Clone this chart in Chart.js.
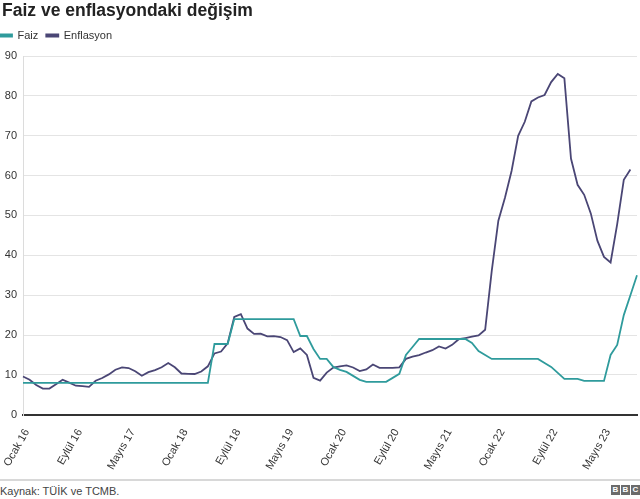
<!DOCTYPE html>
<html lang="tr">
<head>
  <meta charset="UTF-8">
  <title>Faiz ve enflasyondaki değişim</title>
  <script src="https://cdn.jsdelivr.net/npm/chart.js"></script>
  <style>
    body { margin: 0; background: #fff; font-family: "Liberation Sans", Arial, sans-serif; }
    #wrap { position: relative; width: 640px; height: 479px; }
    #footer { position: relative; width: 640px; height: 20px; border-top: 2px solid #d8d8d8; }
    #source { position: absolute; left: 0; top: 4px; font-size: 11px; color: #444; }
    #logo { position: absolute; right: 0; top: 4px; display: flex; gap: 1px; }
    #logo span { width: 9px; height: 10px; background: #6b6b6b; color: #fff; font-size: 8px; font-weight: bold; line-height: 10px; text-align: center; }
  </style>
</head>
<body>
  <div id="wrap"><canvas id="myChart"></canvas></div>
  <div id="footer">
    <div id="source">Kaynak: TÜİK ve TCMB.</div>
    <div id="logo"><span>B</span><span>B</span><span>C</span></div>
  </div>

  <script>
    // month labels, Ocak 2016 - Ekim 2023
    var monthNames = ['Ocak', 'Şubat', 'Mart', 'Nisan', 'Mayıs', 'Haziran', 'Temmuz', 'Ağustos', 'Eylül', 'Ekim', 'Kasım', 'Aralık'];
    var years = [16, 17, 18, 19, 20, 21, 22, 23];
    var months = [];
    years.forEach(function(y) {
      monthNames.forEach(function(m, i) {
        if (y === 23 && i > 9) return;
        months.push(m + ' ' + y);
      });
    });

    // policy rate (%)
    var faiz = [
      8, 8, 8, 8, 8, 8, 8, 8, 8, 8, 8, 8,
      8, 8, 8, 8, 8, 8, 8, 8, 8, 8, 8, 8,
      8, 8, 8, 8, 8, 17.75, 17.75, 17.75, 24, 24, 24, 24,
      24, 24, 24, 24, 24, 24, 19.75, 19.75, 16.5, 14, 14, 12,
      11.25, 10.75, 9.75, 8.75, 8.25, 8.25, 8.25, 8.25, 9.25, 10.25, 15, 17,
      19, 19, 19, 19, 19, 19, 19, 19, 18, 16, 15, 14,
      14, 14, 14, 14, 14, 14, 14, 13, 12, 10.5, 9, 9,
      9, 8.5, 8.5, 8.5, 8.5, 15, 17.5, 25, 30, 35
    ];

    // annual CPI inflation (%)
    var enflasyon = [
      9.58, 8.78, 7.46, 6.57, 6.58, 7.64, 8.79, 8.05, 7.28, 7.16, 7.00, 8.53,
      9.22, 10.13, 11.29, 11.87, 11.72, 10.90, 9.79, 10.68, 11.20, 11.90, 12.98, 11.92,
      10.35, 10.26, 10.23, 10.85, 12.15, 15.39, 15.85, 17.90, 24.52, 25.24, 21.62, 20.30,
      20.35, 19.67, 19.71, 19.50, 18.71, 15.72, 16.65, 15.01, 9.26, 8.55, 10.56, 11.84,
      12.15, 12.37, 11.86, 10.94, 11.39, 12.62, 11.76, 11.77, 11.75, 11.89, 14.03, 14.60,
      14.97, 15.61, 16.19, 17.14, 16.59, 17.53, 18.95, 19.25, 19.58, 19.89, 21.31, 36.08,
      48.69, 54.44, 61.14, 69.97, 73.50, 78.62, 79.60, 80.21, 83.45, 85.51, 84.39, 64.27,
      57.68, 55.18, 50.51, 43.68, 39.59, 38.21, 47.83, 58.94, 61.53, null
    ];

    var yTicks = [0, 10, 20, 30, 40, 50, 60, 70, 80, 90];

    // nudge legend: flush left, a bit more space under it
    var legendTweak = {
      id: 'legendTweak',
      afterInit: function(chart) {
        var lg = chart.legend;
        var fit = lg.fit, draw = lg.draw;
        lg.fit = function() { fit.call(this); this.height += 5; };
        lg.draw = function() {
          this.ctx.save();
          this.ctx.translate(-10, 0);
          draw.call(this);
          this.ctx.restore();
        };
      }
    };

    var ctx = document.getElementById('myChart').getContext('2d');
    var myChart = new Chart(ctx, {
      type: 'line',
      data: {
        labels: months,
        datasets: [{
          label: 'Faiz',
          data: faiz,
          borderColor: '#2f9b9c',
          backgroundColor: '#2f9b9c',
          borderWidth: 1.8,
          pointRadius: 0,
          tension: 0
        }, {
          label: 'Enflasyon',
          data: enflasyon,
          borderColor: '#4a4675',
          backgroundColor: '#4a4675',
          borderWidth: 1.8,
          pointRadius: 0,
          tension: 0
        }]
      },
      plugins: [legendTweak],
      options: {
        responsive: true,
        maintainAspectRatio: false,
        animation: false,
        layout: { padding: { left: 2, right: 3, top: 0, bottom: 3 } },
        plugins: {
          title: {
            display: true,
            text: 'Faiz ve enflasyondaki değişim',
            align: 'start',
            color: '#222',
            font: { family: 'Liberation Sans', size: 17.5, weight: 'bold' },
            padding: { top: 1, bottom: 0 }
          },
          legend: {
            align: 'start',
            labels: {
              boxWidth: 12,
              boxHeight: 2,
              padding: 8,
              color: '#333',
              font: { family: 'Liberation Sans', size: 11 }
            }
          },
          tooltip: { enabled: false }
        },
        scales: {
          x: {
            grid: { display: false },
            border: { color: '#333', width: 2 },
            afterFit: function(scale) {
              scale.paddingLeft = 0;
              scale.paddingRight = 0;
            },
            ticks: {
              autoSkip: false,
              minRotation: 60,
              maxRotation: 60,
              padding: 4,
              labelOffset: 4,
              color: '#333',
              font: { family: 'Liberation Sans', size: 11 },
              callback: function(val, i) {
                return i % 8 === 0 ? this.getLabelForValue(val) : '';
              }
            }
          },
          y: {
            min: 0,
            max: 90,
            afterBuildTicks: function(axis) {
              axis.ticks = yTicks.map(function(v) { return { value: v }; });
            },
            afterFit: function(scale) { scale.width = 21; },
            border: { color: '#dcdcdc', width: 1 },
            grid: {
              drawTicks: false,
              color: function(c) { return c.tick && c.tick.value === 0 ? '#333' : '#e4e4e4'; },
              lineWidth: function(c) { return c.tick && c.tick.value === 0 ? 2 : 1; }
            },
            ticks: {
              padding: 6,
              color: '#333',
              font: { family: 'Liberation Sans', size: 11 }
            }
          }
        }
      }
    });
  </script>
</body>
</html>
